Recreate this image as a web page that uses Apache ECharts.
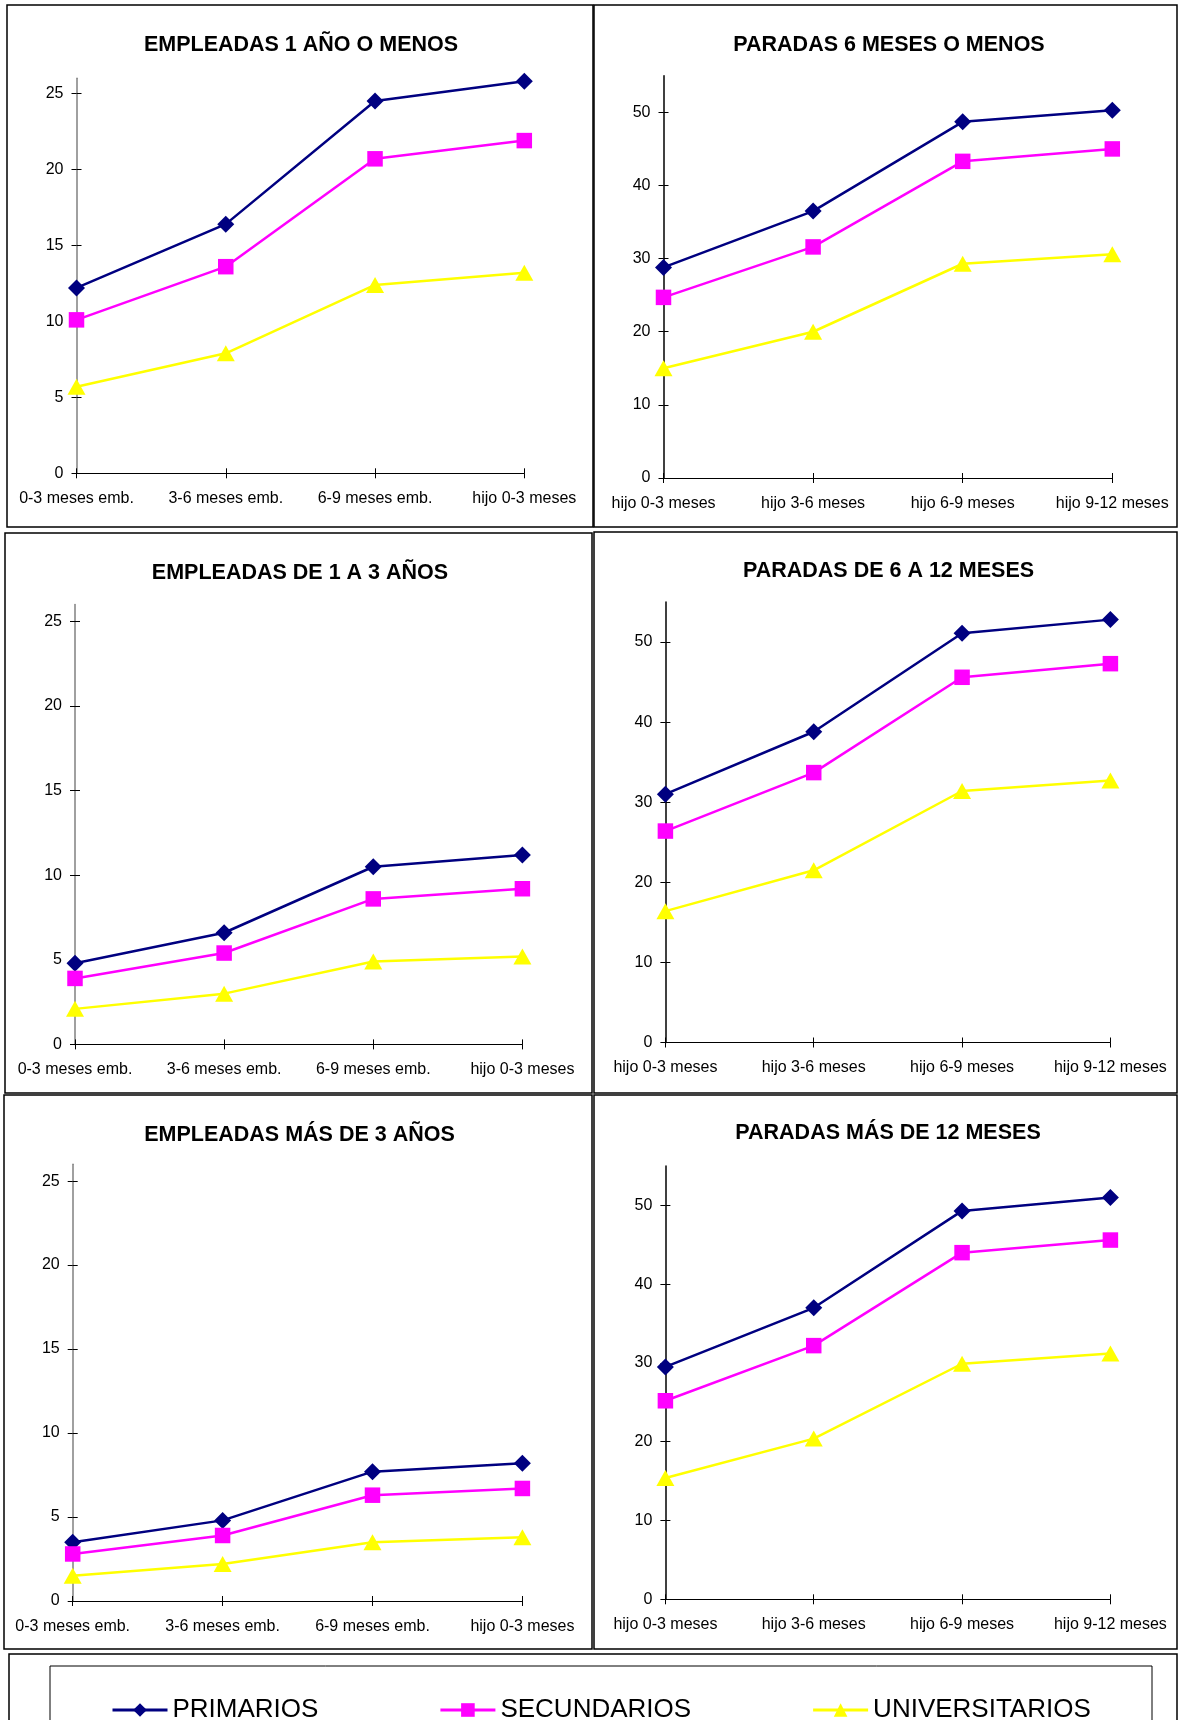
<!DOCTYPE html>
<html><head><meta charset="utf-8">
<script src="https://cdn.jsdelivr.net/npm/echarts@6/dist/echarts.min.js"></script>
<style>html,body{margin:0;padding:0;background:#fff}#c{width:1178px;height:1720px}</style>
</head><body><div id="c"></div>
<script>
// ---- DATA ----
const seriesNames = ['PRIMARIOS', 'SECUNDARIOS', 'UNIVERSITARIOS'];
const categoriesEmpleadas = ['0-3 meses emb.', '3-6 meses emb.', '6-9 meses emb.', 'hijo 0-3 meses'];
const categoriesParadas = ['hijo 0-3 meses', 'hijo 3-6 meses', 'hijo 6-9 meses', 'hijo 9-12 meses'];
const yTicksEmpleadas = [0, 5, 10, 15, 20, 25];
const yTicksParadas = [0, 10, 20, 30, 40, 50];
const titles = ['EMPLEADAS 1 AÑO O MENOS', 'PARADAS 6 MESES O MENOS', 'EMPLEADAS DE 1 A 3 AÑOS',
  'PARADAS DE 6 A 12 MESES', 'EMPLEADAS MÁS DE 3 AÑOS', 'PARADAS MÁS DE 12 MESES'];

const emp1Primarios = [12.2, 16.4, 24.5, 25.8];
const emp1Secundarios = [10.1, 13.6, 20.7, 21.9];
const emp1Universitarios = [5.7, 7.9, 12.4, 13.2];

const par6Primarios = [28.8, 36.5, 48.7, 50.3];
const par6Secundarios = [24.7, 31.6, 43.3, 45.0];
const par6Universitarios = [15.0, 20.0, 29.3, 30.6];

const emp13Primarios = [4.8, 6.6, 10.5, 11.2];
const emp13Secundarios = [3.9, 5.4, 8.6, 9.2];
const emp13Universitarios = [2.1, 3.0, 4.9, 5.2];

const par612Primarios = [31.0, 38.8, 51.1, 52.8];
const par612Secundarios = [26.4, 33.7, 45.6, 47.3];
const par612Universitarios = [16.4, 21.5, 31.4, 32.7];

const emp3Primarios = [3.5, 4.8, 7.7, 8.2];
const emp3Secundarios = [2.8, 3.9, 6.3, 6.7];
const emp3Universitarios = [1.5, 2.2, 3.5, 3.8];

const par12Primarios = [29.5, 37.0, 49.3, 51.0];
const par12Secundarios = [25.2, 32.2, 44.0, 45.6];
const par12Universitarios = [15.4, 20.4, 29.9, 31.2];

// ---- LAYOUT / STYLE ----
const FONT = '"Liberation Sans", Arial, sans-serif';
const panels = [
  { title: titles[0], cats: categoriesEmpleadas, ticks: yTicksEmpleadas, max: 26, interval: 5,
    data: [emp1Primarios, emp1Secundarios, emp1Universitarios],
    grid: { left: 76.5, top: 78.3, width: 447.8, height: 395 }, tpos: [301, 44.8], yColor: '#808080' },
  { title: titles[1], cats: categoriesParadas, ticks: yTicksParadas, max: 55, interval: 10,
    data: [par6Primarios, par6Secundarios, par6Universitarios],
    grid: { left: 663.5, top: 75.8, width: 448.8, height: 402.2 }, tpos: [889, 45], yColor: '#000' },
  { title: titles[2], cats: categoriesEmpleadas, ticks: yTicksEmpleadas, max: 26, interval: 5,
    data: [emp13Primarios, emp13Secundarios, emp13Universitarios],
    grid: { left: 75, top: 604.5, width: 447.4, height: 439.9 }, tpos: [300, 573], yColor: '#808080' },
  { title: titles[3], cats: categoriesParadas, ticks: yTicksParadas, max: 55, interval: 10,
    data: [par612Primarios, par612Secundarios, par612Universitarios],
    grid: { left: 665.4, top: 602, width: 445, height: 440.5 }, tpos: [888.5, 571.2], yColor: '#000' },
  { title: titles[4], cats: categoriesEmpleadas, ticks: yTicksEmpleadas, max: 26, interval: 5,
    data: [emp3Primarios, emp3Secundarios, emp3Universitarios],
    grid: { left: 72.7, top: 1164.3, width: 449.7, height: 436.7 }, tpos: [299.5, 1135], yColor: '#808080' },
  { title: titles[5], cats: categoriesParadas, ticks: yTicksParadas, max: 55, interval: 10,
    data: [par12Primarios, par12Secundarios, par12Universitarios],
    grid: { left: 665.4, top: 1166, width: 445, height: 433.3 }, tpos: [888, 1133.5], yColor: '#000' }
];
const seriesStyles = [
  { color: '#000080', symbol: 'diamond', size: 17 },
  { color: '#FF00FF', symbol: 'rect', size: 15.5 },
  { color: '#FFFF00', symbol: 'triangle', size: [18, 16] }
];

const grids = [], xAxes = [], yAxes = [], series = [], titleComps = [];
panels.forEach((p, i) => {
  grids.push(Object.assign({ containLabel: false }, p.grid));
  titleComps.push({
    text: p.title, left: p.tpos[0], top: p.tpos[1], textAlign: 'center', textVerticalAlign: 'middle',
    padding: 0, textStyle: { fontFamily: FONT, fontSize: 21.5, fontWeight: 'bold', color: '#000' }
  });
  // main x axis (outside ticks + labels)
  xAxes.push({
    type: 'category', gridIndex: i, data: p.cats, boundaryGap: false, position: 'bottom',
    axisLine: { show: true, onZero: false, lineStyle: { color: '#000', width: 1 } },
    axisTick: { show: true, inside: false, length: 5, lineStyle: { color: '#000' } },
    axisLabel: { interval: 0, margin: 17.5, fontFamily: FONT, fontSize: 16, color: '#000' },
    splitLine: { show: false }
  });
  // companion x axis (inside ticks -> cross ticks)
  xAxes.push({
    type: 'category', gridIndex: i, data: p.cats, boundaryGap: false, position: 'bottom',
    axisLine: { show: false, onZero: false },
    axisTick: { show: true, inside: true, length: 5, lineStyle: { color: '#000' } },
    axisLabel: { show: false }, splitLine: { show: false }
  });
  yAxes.push({
    type: 'value', gridIndex: i, min: 0, max: p.max, interval: p.interval, position: 'left',
    axisLine: { show: true, lineStyle: { color: p.yColor, width: 1.5 } },
    axisTick: { show: true, inside: false, length: 5, customValues: p.ticks, lineStyle: { color: '#000' } },
    axisLabel: { margin: 13, customValues: p.ticks, fontFamily: FONT, fontSize: 16, color: '#000' },
    splitLine: { show: false }
  });
  yAxes.push({
    type: 'value', gridIndex: i, min: 0, max: p.max, interval: p.interval, position: 'left',
    axisLine: { show: false },
    axisTick: { show: true, inside: true, length: 5, customValues: p.ticks, lineStyle: { color: '#000' } },
    axisLabel: { show: false }, splitLine: { show: false }
  });
  p.data.forEach((d, k) => {
    const s = seriesStyles[k];
    series.push({
      type: 'line', name: seriesNames[k], xAxisIndex: 2 * i, yAxisIndex: 2 * i, data: d,
      symbol: s.symbol, symbolSize: s.size, showSymbol: true,
      itemStyle: { color: s.color, borderWidth: 0 },
      lineStyle: { color: s.color, width: 2.5 },
      emphasis: { disabled: true }, animation: false, z: 2 + k
    });
  });
});

const border = (x, y, w, h, lw) => ({
  type: 'rect', silent: true, z: 100,
  shape: { x: x, y: y, width: w, height: h },
  style: { fill: 'none', stroke: '#000', lineWidth: lw || 1.5 }
});

const option = {
  backgroundColor: '#fff',
  animation: false,
  title: titleComps,
  grid: grids,
  xAxis: xAxes,
  yAxis: yAxes,
  series: series,
  legend: {
    data: seriesNames, left: 111, top: 1697, itemGap: 120.5, itemWidth: 55, itemHeight: 17,
    selectedMode: false, padding: 0,
    lineStyle: { width: 3 },
    textStyle: { fontFamily: FONT, fontSize: 26, color: '#000' }
  },
  graphic: [
    border(7, 5, 586, 522),
    border(594, 5, 583, 522),
    border(5, 533, 587, 560),
    border(594, 532, 583, 561),
    border(4, 1095, 588, 554),
    border(594, 1095, 583, 554),
    border(9, 1654, 1168, 80),
    border(50, 1666, 1102, 80, 1)
  ]
};

const chart = echarts.init(document.getElementById('c'), null, { renderer: 'canvas' });
chart.setOption(option);
</script>
</body></html>
